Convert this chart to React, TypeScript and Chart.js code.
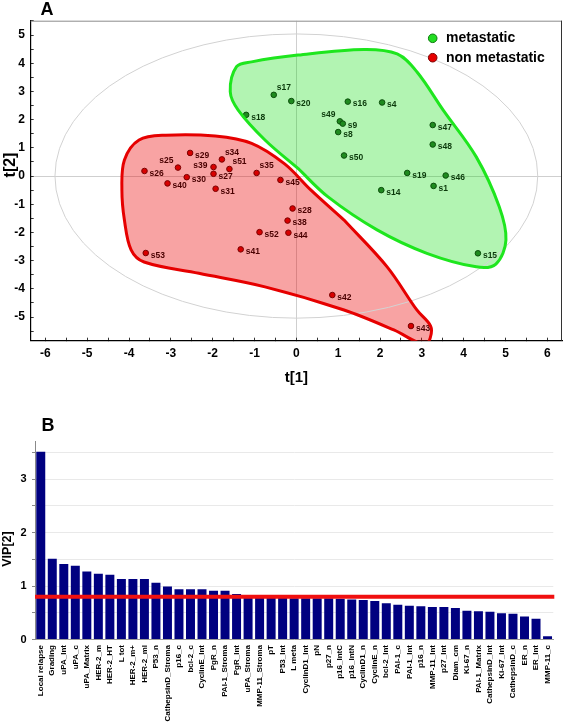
import React, { useEffect, useRef } from 'react';
import { Chart, registerables } from 'chart.js';

Chart.register(...registerables);

const FONT = "'Liberation Sans', Arial, Helvetica, sans-serif";
Chart.defaults.font.family = FONT;

// ---------- Panel A: score plot t[1] vs t[2] ----------
const metastaticNames = ['s17', 's18', 's20', 's16', 's4', 's49', 's9', 's8', 's50', 's47', 's48', 's19', 's46', 's1', 's14', 's15'];
const metastaticT1 = [-0.54, -1.2, -0.12, 1.23, 2.05, 1.04, 1.11, 1.0, 1.14, 3.26, 3.26, 2.65, 3.57, 3.28, 2.03, 4.34];
const metastaticT2 = [2.88, 2.17, 2.66, 2.64, 2.61, 1.94, 1.86, 1.56, 0.73, 1.81, 1.12, 0.11, 0.02, -0.35, -0.5, -2.74];

const nonMetastaticNames = ['s26', 's25', 's29', 's39', 's30', 's40', 's27', 's34', 's51', 's31', 's35', 's45', 's52', 's41', 's53', 's28', 's38', 's44', 's42', 's43'];
const nonMetastaticT1 = [-3.63, -2.83, -2.54, -1.98, -2.62, -3.08, -1.98, -1.78, -1.6, -1.93, -0.95, -0.38, -0.88, -1.33, -3.6, -0.09, -0.21, -0.19, 0.86, 2.74];
const nonMetastaticT2 = [0.18, 0.3, 0.82, 0.32, -0.04, -0.26, 0.08, 0.59, 0.25, -0.45, 0.11, -0.14, -1.99, -2.6, -2.73, -1.15, -1.58, -2.01, -4.22, -5.32];

// hand-drawn group outlines (data coordinates)
const metastaticHullT1 = [0.04, 0.75, 1.93, 3.12, 4.3, 4.77, 5.01, 4.85, 4.3, 3.51, 2.88, 2.41, 1.62, 0.04, -1.07, -1.43, -1.58, -1.39, -0.75, 0.04];
const metastaticHullT2 = [0.27, -0.73, -1.91, -2.74, -3.22, -3.12, -2.27, -1.09, 0.68, 2.34, 3.7, 4.33, 4.49, 4.29, 4.05, 3.88, 2.99, 2.34, 1.28, 0.27];

const nonMetastaticHullT1 = [1.14, 0.35, -0.28, -1.07, -1.94, -3.12, -3.76, -4.11, -4.17, -4.11, -3.95, -3.64, -2.33, -0.75, 1.14, 2.33, 3.07, 3.2, 3.21, 2.88, 2.17, 1.14];
const nonMetastaticHullT2 = [-1.56, -0.5, 0.43, 1.16, 1.42, 1.45, 1.28, 0.57, -0.5, -1.56, -2.62, -3.05, -3.45, -3.93, -4.75, -5.46, -5.99, -5.74, -5.32, -4.75, -3.22, -1.56];

const T1_TICKS = [-6, -5.5, -5, -4.5, -4, -3.5, -3, -2.5, -2, -1.5, -1, -0.5, 0, 0.5, 1, 1.5, 2, 2.5, 3, 3.5, 4, 4.5, 5, 5.5, 6];
const T2_TICKS = [-5.5, -5, -4.5, -4, -3.5, -3, -2.5, -2, -1.5, -1, -0.5, 0, 0.5, 1, 1.5, 2, 2.5, 3, 3.5, 4, 4.5, 5, 5.5];
const T1_RANGE = [-6.35, 6.35];
const T2_RANGE = [-5.84, 5.51];
const ELLIPSE_T1 = 5.77;
const ELLIPSE_T2 = 5.04;
const groupNames = ['metastatic', 'non metastatic'];

// ---------- Panel B: VIP ----------
const vipVariables = [
  'Local relapse', 'Grading', 'uPA_Int', 'uPA_c', 'uPA_Matrix', 'HER-2_m', 'HER-2_HT', 'L tot', 'HER-2_m+', 'HER-2_ml',
  'P53_n', 'CathepsinD_Stroma', 'p16_c', 'bcl-2_c', 'CyclinE_Int', 'PgR_n', 'PAI-1_Stroma', 'PgR_Int', 'uPA_Stroma', 'MMP-11_Stroma',
  'pT', 'P53_Int', 'L meta', 'CyclinD1_Int', 'pN', 'p27_n', 'p16_IntC', 'p16_IntN', 'CyclinD1_n', 'CyclinE_n',
  'bcl-2_Int', 'PAI-1_c', 'PAI-1_Int', 'p16_n', 'MMP-11_Int', 'p27_Int', 'Diam_cm', 'Ki-67_n', 'PAI-1_Matrix', 'CathepsinD_Int',
  'Ki-67_Int', 'CathepsinD_c', 'ER_n', 'ER_Int', 'MMP-11_c',
];
const vipValues = [
  3.51, 1.51, 1.41, 1.38, 1.27, 1.23, 1.21, 1.13, 1.13, 1.13,
  1.06, 0.99, 0.94, 0.94, 0.94, 0.91, 0.91, 0.85, 0.82, 0.81,
  0.8, 0.79, 0.77, 0.77, 0.77, 0.77, 0.76, 0.75, 0.74, 0.72,
  0.68, 0.65, 0.63, 0.62, 0.61, 0.61, 0.59, 0.54, 0.53, 0.52,
  0.49, 0.48, 0.43, 0.39, 0.06,
];
const VIP_THRESHOLD = 0.8;
const VIP_TICKS = [0, 0.5, 1, 1.5, 2, 2.5, 3, 3.5];
const VIP_MAX = 3.7;

const zip = (xs: number[], ys: number[]) => xs.map((x, i) => ({ x, y: ys[i] }));

// label placement around points (style only)
const LABEL_PLACE: Record<string, string> = {
  s17: 'ur', s34: 'ur', s35: 'ur', s51: 'ur', s49: 'ul', s25: 'ul', s39: 'l',
};

const panelAPlugin = {
  id: 'panelADecor',
  beforeDatasetsDraw(chart: any) {
    const { ctx, scales: { x, y } } = chart;
    const cx = x.getPixelForValue(0);
    const cy = y.getPixelForValue(0);
    ctx.save();
    ctx.beginPath();
    ctx.ellipse(cx, cy, x.getPixelForValue(ELLIPSE_T1) - cx, cy - y.getPixelForValue(ELLIPSE_T2), 0, 0, Math.PI * 2);
    ctx.strokeStyle = '#d2d2d2';
    ctx.lineWidth = 1;
    ctx.stroke();
    ctx.restore();
  },
  afterDatasetDraw(chart: any, args: any) {
    const ds = chart.data.datasets[args.index];
    if (!ds.pointNames) return;
    const { ctx } = chart;
    ctx.save();
    ctx.font = `bold 8.5px ${FONT}`;
    ctx.fillStyle = ds.labelColor;
    ctx.textBaseline = 'middle';
    args.meta.data.forEach((el: any, i: number) => {
      const name = ds.pointNames[i];
      const place = LABEL_PLACE[name] || 'r';
      let tx = el.x + 5;
      let ty = el.y + 2.5;
      ctx.textAlign = 'left';
      if (place === 'ur') { tx = el.x + 3; ty = el.y - 7; }
      if (place === 'ul') { tx = el.x - 4.5; ty = el.y - 6.5; ctx.textAlign = 'right'; }
      if (place === 'l') { tx = el.x - 6; ty = el.y - 1; ctx.textAlign = 'right'; }
      ctx.fillText(name, tx, ty);
    });
    ctx.restore();
  },
  afterDraw(chart: any) {
    const { ctx, chartArea: a } = chart;
    ctx.save();
    // top / right frame
    ctx.lineWidth = 1;
    ctx.strokeStyle = '#8c8c8c';
    ctx.beginPath();
    ctx.moveTo(a.left, a.top + 0.5);
    ctx.lineTo(a.right, a.top + 0.5);
    ctx.stroke();
    ctx.strokeStyle = '#333';
    ctx.beginPath();
    ctx.moveTo(a.right - 0.5, a.top);
    ctx.lineTo(a.right - 0.5, a.bottom);
    ctx.stroke();

    // legend
    const items = [
      { fill: '#22dd22', stroke: '#0c7a0c', y: 38.3 },
      { fill: '#e60000', stroke: '#7a0000', y: 57.7 },
    ];
    items.forEach((it, i) => {
      ctx.beginPath();
      ctx.arc(432.7, it.y, 4.3, 0, Math.PI * 2);
      ctx.fillStyle = it.fill;
      ctx.fill();
      ctx.lineWidth = 1;
      ctx.strokeStyle = it.stroke;
      ctx.stroke();
      ctx.fillStyle = '#000';
      ctx.font = `bold 14px ${FONT}`;
      ctx.textAlign = 'left';
      ctx.textBaseline = 'middle';
      ctx.fillText(groupNames[i], 446, it.y);
    });

    // panel letter
    ctx.fillStyle = '#000';
    ctx.font = `bold 18px ${FONT}`;
    ctx.textAlign = 'left';
    ctx.textBaseline = 'alphabetic';
    ctx.fillText('A', 40.5, 14.8);

    // axis titles
    ctx.font = `bold 15px ${FONT}`;
    ctx.textAlign = 'center';
    ctx.textBaseline = 'middle';
    ctx.fillText('t[1]', (a.left + a.right) / 2, 377.5);
    ctx.save();
    ctx.translate(11, 165);
    ctx.rotate(-Math.PI / 2);
    ctx.font = `bold 16px ${FONT}`;
    ctx.fillText('t[2]', 0, 0);
    ctx.restore();
    ctx.restore();
  },
};

function PanelA() {
  const ref = useRef<HTMLCanvasElement>(null);
  useEffect(() => {
    const chart = new Chart(ref.current as HTMLCanvasElement, {
      type: 'line',
      data: {
        datasets: [
          {
            label: 'metastatic region',
            data: zip(metastaticHullT1, metastaticHullT2),
            borderColor: '#1ee61e',
            backgroundColor: 'rgba(0,220,0,0.3)',
            borderWidth: 3,
            fill: 'shape',
            tension: 0.35,
            pointRadius: 0,
            order: 0,
          },
          {
            label: 'non metastatic region',
            data: zip(nonMetastaticHullT1, nonMetastaticHullT2),
            borderColor: '#e60000',
            backgroundColor: 'rgba(235,0,0,0.36)',
            borderWidth: 3,
            fill: 'shape',
            tension: 0.35,
            pointRadius: 0,
            order: 0,
          },
          {
            label: groupNames[0],
            data: zip(metastaticT1, metastaticT2),
            showLine: false,
            pointRadius: 2.8,
            pointBackgroundColor: '#1f8a1f',
            pointBorderColor: '#0b4f0b',
            pointBorderWidth: 1,
            order: 1,
            pointNames: metastaticNames,
            labelColor: '#0b3a0b',
          } as any,
          {
            label: groupNames[1],
            data: zip(nonMetastaticT1, nonMetastaticT2),
            showLine: false,
            pointRadius: 2.8,
            pointBackgroundColor: '#d80000',
            pointBorderColor: '#7a0000',
            pointBorderWidth: 1,
            order: 1,
            pointNames: nonMetastaticNames,
            labelColor: '#4a0000',
          } as any,
        ],
      },
      options: {
        animation: false,
        responsive: false,
        devicePixelRatio: 1,
        layout: { padding: { top: 20.7, right: 1, left: 0, bottom: 0 } },
        plugins: {
          legend: { display: false },
          tooltip: { enabled: false },
          filler: { drawTime: 'beforeDatasetsDraw' },
        } as any,
        scales: {
          x: {
            type: 'linear',
            min: T1_RANGE[0],
            max: T1_RANGE[1],
            afterBuildTicks: (s: any) => { s.ticks = T1_TICKS.map((v) => ({ value: v })); },
            afterFit: (s: any) => { s.height = 59.3; },
            ticks: {
              autoSkip: false,
              maxRotation: 0,
              padding: 8.5,
              color: '#000',
              font: { size: 12, weight: 'bold' },
              callback: (v: any) => (Number.isInteger(Number(v)) ? String(v) : ''),
            },
            grid: {
              color: (c: any) => (c.tick && c.tick.value === 0 ? '#cfcfcf' : 'rgba(0,0,0,0)'),
              tickColor: '#333',
              tickLength: -3,
              lineWidth: 1,
            },
            border: { color: '#000', width: 1.2 },
          },
          y: {
            type: 'linear',
            min: T2_RANGE[0],
            max: T2_RANGE[1],
            afterBuildTicks: (s: any) => { s.ticks = T2_TICKS.map((v) => ({ value: v })); },
            afterFit: (s: any) => { s.width = 30.7; },
            ticks: {
              autoSkip: false,
              padding: 8.7,
              color: '#000',
              font: { size: 12, weight: 'bold' },
              callback: (v: any) => (Number.isInteger(Number(v)) ? String(v) : ''),
            },
            grid: {
              color: (c: any) => (c.tick && c.tick.value === 0 ? '#cfcfcf' : 'rgba(0,0,0,0)'),
              tickColor: '#333',
              tickLength: -3,
              lineWidth: 1,
            },
            border: { color: '#000', width: 1.2 },
          },
        },
      } as any,
      plugins: [panelAPlugin],
    });
    return () => chart.destroy();
  }, []);
  return (
    <canvas
      ref={ref}
      width={567}
      height={400}
      style={{ position: 'absolute', left: 0, top: 0, width: 567, height: 400, display: 'block' }}
    />
  );
}

const panelBPlugin = {
  id: 'panelBDecor',
  afterDatasetsDraw(chart: any) {
    const { ctx, chartArea: a, scales: { y } } = chart;
    const py = y.getPixelForValue(VIP_THRESHOLD);
    ctx.save();
    ctx.strokeStyle = '#f01010';
    ctx.lineWidth = 4;
    ctx.beginPath();
    ctx.moveTo(a.left, py);
    ctx.lineTo(a.right + 1, py);
    ctx.stroke();
    ctx.restore();
  },
  afterDraw(chart: any) {
    const { ctx } = chart;
    ctx.save();
    ctx.fillStyle = '#000';
    ctx.font = `bold 18px ${FONT}`;
    ctx.textAlign = 'left';
    ctx.textBaseline = 'alphabetic';
    ctx.fillText('B', 41.5, 31);
    ctx.translate(8, 149);
    ctx.rotate(-Math.PI / 2);
    ctx.font = `bold 12.5px ${FONT}`;
    ctx.textAlign = 'center';
    ctx.textBaseline = 'middle';
    ctx.fillText('VIP[2]', 0, 0);
    ctx.restore();
  },
};

function PanelB() {
  const ref = useRef<HTMLCanvasElement>(null);
  useEffect(() => {
    const chart = new Chart(ref.current as HTMLCanvasElement, {
      type: 'bar',
      data: {
        labels: vipVariables,
        datasets: [
          {
            label: 'VIP[2]',
            data: vipValues,
            backgroundColor: '#000080',
            borderWidth: 0,
            barPercentage: 0.78,
            categoryPercentage: 1,
          },
        ],
      },
      options: {
        animation: false,
        responsive: false,
        devicePixelRatio: 1,
        layout: { padding: { top: 41.7, right: 13.7, left: 0, bottom: 0 } },
        plugins: { legend: { display: false }, tooltip: { enabled: false } },
        scales: {
          x: {
            afterFit: (s: any) => { s.height = 84.5; },
            ticks: {
              autoSkip: false,
              minRotation: 90,
              maxRotation: 90,
              padding: 5.5,
              color: '#000',
              font: { size: 8, weight: 'bold' },
            },
            grid: { drawOnChartArea: false, drawTicks: false },
            border: { color: '#9a9a9a', width: 1 },
          },
          y: {
            min: 0,
            max: VIP_MAX,
            afterBuildTicks: (s: any) => { s.ticks = VIP_TICKS.map((v) => ({ value: v })); },
            afterFit: (s: any) => { s.width = 35; },
            ticks: {
              autoSkip: false,
              padding: 5.3,
              color: '#000',
              font: { size: 11, weight: 'bold' },
              callback: (v: any) => (Number.isInteger(Number(v)) ? String(v) : ''),
            },
            grid: { color: '#e9e9e9', tickColor: '#888', tickLength: 3, lineWidth: 1 },
            border: { color: '#8a8a8a', width: 1 },
          },
        },
      } as any,
      plugins: [panelBPlugin],
    });
    return () => chart.destroy();
  }, []);
  return (
    <canvas
      ref={ref}
      width={567}
      height={324}
      style={{ position: 'absolute', left: 0, top: 400, width: 567, height: 324, display: 'block' }}
    />
  );
}

export default function App() {
  return (
    <div style={{ position: 'absolute', left: 0, top: 0, width: 567, height: 724, background: '#fff', overflow: 'hidden' }}>
      <PanelA />
      <PanelB />
    </div>
  );
}
